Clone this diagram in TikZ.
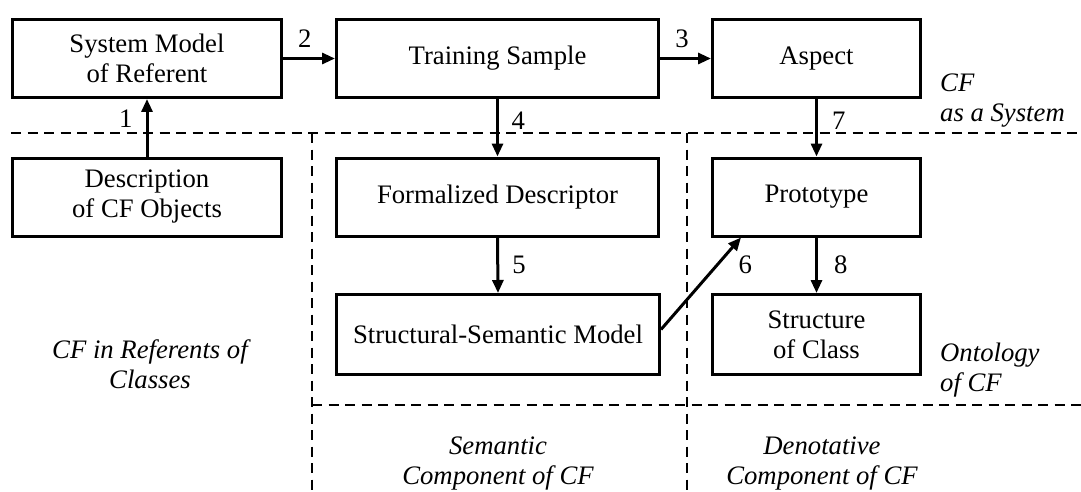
\documentclass[tikz,border=0pt]{standalone}
\usepackage{fontspec}
\setmainfont{Liberation Serif}
\usetikzlibrary{arrows.meta}
\begin{document}
\begin{tikzpicture}[x=1pt,y=-1pt,
  box/.style={draw, line width=3pt, inner sep=0pt, align=center, font=\fontsize{26.7}{30}\selectfont},
  arr/.style={line width=3pt, -{Triangle[length=13pt,width=11pt]}},
  num/.style={inner sep=0pt, font=\fontsize{26.7}{30}\selectfont},
  region/.style={inner sep=0pt, font=\fontsize{26.7}{30}\selectfont\itshape},
  sep/.style={line width=2pt, dash pattern=on 10pt off 6.5pt}]
\useasboundingbox (0,0) rectangle (1081,492);
% separators
\draw[sep] (11,133) -- (1081,133);
\draw[sep] (312,133) -- (312,492);
\draw[sep] (687,133) -- (687,492);
\draw[sep] (312,405) -- (1081,405);
% boxes
\node[box, minimum width=269pt, minimum height=78pt] (sm) at (147,58.5) {System Model\\of Referent};
\node[box, minimum width=269pt, minimum height=78pt] (desc) at (147,197) {Description\\of CF Objects};
\node[box, minimum width=322pt, minimum height=78pt] (ts) at (497.5,58.5) {Training Sample};
\node[box, minimum width=322pt, minimum height=78pt] (fd) at (497.5,197) {Formalized Descriptor};
\node[box, minimum width=323pt, minimum height=80pt] (ssm) at (498,334.5) {Structural-Semantic Model};
\node[box, minimum width=208pt, minimum height=78pt] (asp) at (816.5,58.5) {Aspect};
\node[box, minimum width=208pt, minimum height=78pt] (proto) at (816.5,197) {Prototype};
\node[box, minimum width=208pt, minimum height=80pt] (soc) at (816.5,334.5) {Structure\\of Class};
% arrows
\draw[arr] (desc.north) -- node[num, pos=0.65, left=13pt] {1} (sm.south);
\draw[arr] (sm.east) -- node[num, pos=0.42, above=9pt] {2} (ts.west);
\draw[arr] (ts.east) -- node[num, pos=0.43, above=9pt] {3} (asp.west);
\draw[arr] (ts.south) -- node[num, pos=0.37, right=12.5pt] {4} (fd.north);
\draw[arr] (fd.south) -- node[num, pos=0.49, right=13pt] {5} (ssm.north);
\draw[arr] ([yshift=5pt]ssm.east) -- node[num, pos=0.7, right=20pt] {6} ([xshift=30pt]proto.south west);
\draw[arr] (asp.south) -- node[num, pos=0.37, right=14pt] {7} (proto.north);
\draw[arr] (proto.south) -- node[num, pos=0.49, right=16pt] {8} (soc.north);
% region labels
\node[region, align=left, anchor=west] (lsys) at (940,101) {CF\\as a System};
\node[region, align=left, anchor=west] (lont) at (940,370) {Ontology\\of CF};
\node[region, align=center] (lref) at (150,364) {CF in Referents of\\Classes};
\node[region, align=center] (lsem) at (498,463) {Semantic\\Component of CF};
\node[region, align=center] (lden) at (822,463) {Denotative\\Component of CF};
\end{tikzpicture}
\end{document}
